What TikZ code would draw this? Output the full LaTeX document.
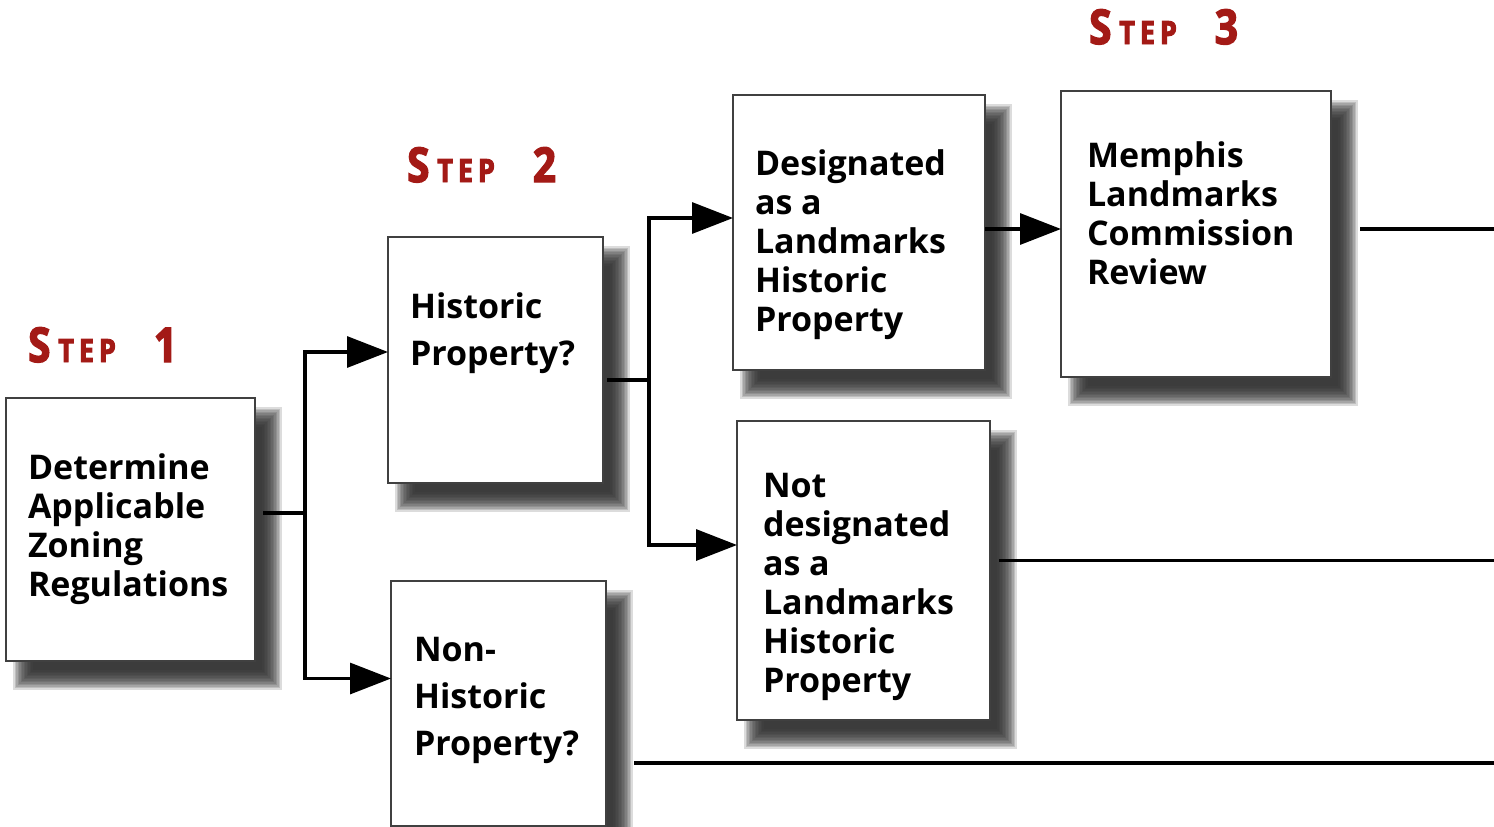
\documentclass[tikz,border=0pt]{standalone}
\usepackage{fontspec}
\usepackage{graphicx}
\setmainfont{Open Sans}
\newfontfamily\stepfont{Open Sans}[FakeStretch=0.84, FakeBold=3]
\usetikzlibrary{arrows.meta,calc,backgrounds}
\definecolor{stepred}{RGB}{163,26,22}
\definecolor{shadowgray}{RGB}{45,45,45}

% "STEP n" heading: large initial, small capitals, wide tracking
\newcommand\steplbl[1]{%
  {\stepfont\bfseries\fontsize{48}{48}\selectfont S}\hspace{8pt}%
  {\stepfont\bfseries\fontsize{32}{32}\selectfont T\hspace{5pt}E\hspace{5pt}P}\hspace{38pt}%
  {\stepfont\bfseries\fontsize{48}{48}\selectfont #1}}

\begin{document}
\begin{tikzpicture}[x=1pt,y=-1pt,
  box/.style={draw=black!75, line width=1.1pt, fill=white, inner sep=0pt,
              outer sep=0pt, anchor=north west},
  boxtext/.style={anchor=base west, inner sep=0pt, outer sep=0pt,
                  font=\bfseries\fontsize{34}{39}\selectfont},
  widetext/.style={boxtext, font=\bfseries\fontsize{34}{47}\selectfont},
  steplabel/.style={anchor=base west, inner sep=0pt, text=stepred},
  conn/.style={line width=3.2pt},
  flow/.style={conn, -{Triangle[length=41pt,width=31pt]}},
]
\useasboundingbox (0,0) rectangle (1494,827);

% step headings
\node[steplabel] (s1) at (28,362)   {\steplbl{1}};
\node[steplabel] (s2) at (407,182)  {\steplbl{2}};
\node[steplabel] (s3) at (1089,44)  {\steplbl{3}};

% boxes
\node[box, minimum width=249pt, minimum height=263pt] (b1) at (6,398)    {};
\node[box, minimum width=215pt, minimum height=246pt] (b2) at (388,237)  {};
\node[box, minimum width=215pt, minimum height=245pt] (b3) at (391,581)  {};
\node[box, minimum width=252pt, minimum height=275pt] (b4) at (733,95)   {};
\node[box, minimum width=253pt, minimum height=299pt] (b5) at (737,421)  {};
\node[box, minimum width=270pt, minimum height=286pt] (b6) at (1061,91)  {};

% box captions
\node[boxtext]  (t1) at ($(b1.north west)+(22,81)$)
  {\vtop{\hbox{Determine}\hbox{Applicable}\hbox{Zoning}\hbox{Regulations}}};
\node[widetext] (t2) at ($(b2.north west)+(22,81)$)
  {\vtop{\hbox{Historic}\hbox{Property?}}};
\node[widetext] (t3) at ($(b3.north west)+(23,80)$)
  {\vtop{\hbox{Non-}\hbox{Historic}\hbox{Property?}}};
\node[boxtext]  (t4) at ($(b4.north west)+(22,80)$)
  {\vtop{\hbox{Designated}\hbox{as a}\hbox{Landmarks}\hbox{Historic}\hbox{Property}}};
\node[boxtext]  (t5) at ($(b5.north west)+(26,76)$)
  {\vtop{\hbox{Not}\hbox{designated}\hbox{as a}\hbox{Landmarks}\hbox{Historic}\hbox{Property}}};
\node[boxtext]  (t6) at ($(b6.north west)+(26,76)$)
  {\vtop{\hbox{Memphis}\hbox{Landmarks}\hbox{Commission}\hbox{Review}}};

% soft drop shadows behind the boxes
\begin{scope}[on background layer]
  \foreach \n in {b1,b2,b3,b4,b5,b6}{
    \foreach \k in {0,...,13}{
      \pgfmathsetmacro\sh{-10+\k*20/13}
      \fill[shadowgray, opacity=0.17]
        ($(\n.north west)+(17+\sh,19+\sh)$) rectangle ($(\n.south east)+(17-\sh,19-\sh)$);
    }
  }
\end{scope}

% branch points
\coordinate (j1) at (305,513);
\coordinate (j2) at (649,380);

% step 1 -> step 2
\draw[conn, shorten <=8pt] (b1.east |- j1) -- (j1);
\draw[flow] (j1) |- ([yshift=8pt]b2.west);
\draw[flow] (j1) |- ([yshift=25pt]b3.west);

% historic property -> designated / not designated
\draw[conn, shorten <=4pt] (b2.east |- j2) -- (j2);
\draw[flow] (j2) |- ([yshift=14.5pt]b4.west);
\draw[flow] (j2) |- ([yshift=25.5pt]b5.west);

% designated -> commission review
\coordinate (a46) at ([yshift=3.5pt]b4.east);
\draw[flow] (a46) -- (a46 -| b6.west);

% outgoing lines
\coordinate (e6) at (1494,229);
\coordinate (e5) at (1494,560.5);
\coordinate (e3) at (1494,763);
\draw[conn, shorten <=29pt] (b6.east |- e6) -- (e6);
\draw[conn, shorten <=9pt]  (b5.east |- e5) -- (e5);
\draw[conn, shorten <=28pt] (b3.east |- e3) -- (e3);
\end{tikzpicture}
\end{document}
